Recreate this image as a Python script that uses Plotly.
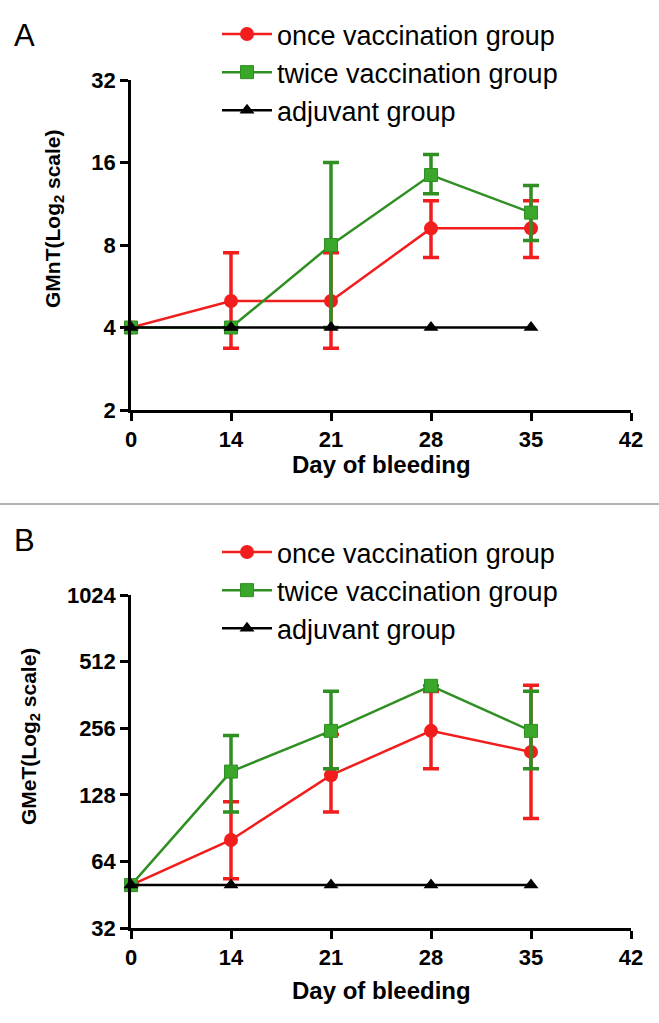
import plotly.graph_objects as go

# ---------------- data ----------------
tick_days = ["0", "14", "21", "28", "35", "42"]
days = ["0", "14", "21", "28", "35"]

# Panel A: GMnT
a_once = [4, 5, 5, 9.2, 9.2]
a_once_hi = [None, 7.5, 7.5, 11.6, 11.6]
a_once_lo = [None, 3.36, 3.36, 7.2, 7.2]
a_twice = [4, 4, 8, 14.4, 10.5]
a_twice_hi = [None, None, 16, 17.1, 13.2]
a_twice_lo = [None, None, 4, 12.3, 8.3]
a_adj = [4, 4, 4, 4, 4]
a_ticks = [2, 4, 8, 16, 32]

# Panel B: GMeT
b_once = [50, 80, 157, 249, 200]
b_once_hi = [None, 119, 240, 375, 400]
b_once_lo = [None, 53.4, 107, 168, 100]
b_twice = [50, 163, 249, 398, 249]
b_twice_hi = [None, 237, 376, None, 376]
b_twice_lo = [None, 107, 168, None, 168]
b_adj = [50, 50, 50, 50, 50]
b_ticks = [32, 64, 128, 256, 512, 1024]

names = ["once vaccination group", "twice vaccination group", "adjuvant group"]

RED = "#f21d1d"
GREEN_LINE = "#2f8f22"
GREEN_FILL = "#3aa62a"
BLACK = "#000000"
FONT = "Liberation Sans, Arial, sans-serif"

W, H = 659, 1023


def px_x(p):
    return p / W


def px_y(p):
    return 1 - p / H


def err(vals, hi, lo):
    up = [None if h is None else h - v for v, h in zip(vals, hi)]
    dn = [None if l is None else v - l for v, l in zip(vals, lo)]
    return up, dn


fig = go.Figure()


def add_panel(xa, ya, legend, once, ohi, olo, twice, thi, tlo, adj):
    up, dn = err(once, ohi, olo)
    fig.add_trace(go.Scatter(
        x=days, y=once, name=names[0], mode="lines+markers",
        xaxis=xa, yaxis=ya, legend=legend, cliponaxis=False,
        line=dict(color=RED, width=2.5),
        marker=dict(symbol="circle", size=14, color=RED),
        error_y=dict(type="data", symmetric=False, array=up, arrayminus=dn,
                     color=RED, thickness=3.5, width=8),
    ))
    up, dn = err(twice, thi, tlo)
    fig.add_trace(go.Scatter(
        x=days, y=twice, name=names[1], mode="lines+markers",
        xaxis=xa, yaxis=ya, legend=legend, cliponaxis=False,
        line=dict(color=GREEN_LINE, width=2.5),
        marker=dict(symbol="square", size=13, color=GREEN_FILL,
                    line=dict(color=GREEN_LINE, width=1)),
        error_y=dict(type="data", symmetric=False, array=up, arrayminus=dn,
                     color=GREEN_LINE, thickness=3.5, width=8),
    ))
    fig.add_trace(go.Scatter(
        x=days, y=adj, name=names[2], mode="lines+markers",
        xaxis=xa, yaxis=ya, legend=legend, cliponaxis=False,
        line=dict(color=BLACK, width=2.5),
        marker=dict(symbol="triangle-up", size=13, color=BLACK),
    ))


add_panel("x", "y", "legend", a_once, a_once_hi, a_once_lo,
          a_twice, a_twice_hi, a_twice_lo, a_adj)
add_panel("x2", "y2", "legend2", b_once, b_once_hi, b_once_lo,
          b_twice, b_twice_hi, b_twice_lo, b_adj)

axis_common = dict(
    showline=True, linecolor="black", linewidth=2.5,
    ticks="outside", ticklen=8, tickwidth=2.5, tickcolor="black",
    showgrid=False, zeroline=False, automargin=False,
    tickfont=dict(family=FONT, size=22, color="black", weight="bold"),
)

xdom = [px_x(131), px_x(631)]
legend_common = dict(xanchor="left", yanchor="top", bgcolor="rgba(0,0,0,0)",
                     font=dict(family=FONT, size=27), tracegroupgap=0,
                     itemwidth=50)

fig.update_layout(
    width=W, height=H,
    margin=dict(l=0, r=0, t=0, b=0, pad=0, autoexpand=False),
    paper_bgcolor="white", plot_bgcolor="white",
    font=dict(family=FONT, color="black"),
    xaxis=dict(domain=xdom, anchor="y", type="category",
               categoryorder="array", categoryarray=tick_days,
               tickvals=tick_days, range=[0, 5], **axis_common),
    yaxis=dict(domain=[px_y(410), px_y(80)], anchor="x", type="log",
               range=[0.30103, 1.50515], tickvals=a_ticks,
               ticktext=[str(t) for t in a_ticks], **axis_common),
    xaxis2=dict(domain=xdom, anchor="y2", type="category",
                categoryorder="array", categoryarray=tick_days,
                tickvals=tick_days, range=[0, 5], **axis_common),
    yaxis2=dict(domain=[px_y(928), px_y(595)], anchor="x2", type="log",
                range=[1.50515, 3.0103], tickvals=b_ticks,
                ticktext=[str(t) for t in b_ticks], **axis_common),
    legend=dict(x=px_x(217), y=px_y(10), **legend_common),
    legend2=dict(x=px_x(217), y=px_y(528), **legend_common),
    shapes=[dict(type="line", xref="paper", yref="paper", x0=0, x1=1,
                 y0=px_y(504), y1=px_y(504),
                 line=dict(color="#b4b4b4", width=2))],
    annotations=[
        dict(text="A", x=px_x(12), y=px_y(36), xref="paper", yref="paper",
             xanchor="left", yanchor="middle", showarrow=False,
             font=dict(family=FONT, size=31)),
        dict(text="B", x=px_x(12), y=px_y(540), xref="paper", yref="paper",
             xanchor="left", yanchor="middle", showarrow=False,
             font=dict(family=FONT, size=31)),
        dict(text="GMnT(Log<sub>2</sub> scale)", x=px_x(54), y=px_y(219),
             xref="paper", yref="paper", textangle=-90, showarrow=False,
             xanchor="center", yanchor="middle",
             font=dict(family=FONT, size=21, weight="bold")),
        dict(text="GMeT(Log<sub>2</sub> scale)", x=px_x(30), y=px_y(737),
             xref="paper", yref="paper", textangle=-90, showarrow=False,
             xanchor="center", yanchor="middle",
             font=dict(family=FONT, size=21, weight="bold")),
        dict(text="Day of bleeding", x=px_x(381), y=px_y(464),
             xref="paper", yref="paper", showarrow=False,
             xanchor="center", yanchor="middle",
             font=dict(family=FONT, size=24, weight="bold")),
        dict(text="Day of bleeding", x=px_x(381), y=px_y(990),
             xref="paper", yref="paper", showarrow=False,
             xanchor="center", yanchor="middle",
             font=dict(family=FONT, size=24, weight="bold")),
    ],
)

fig.write_html(
    "out.html",
    config={"displayModeBar": False},
    post_script="document.body.style.margin='0';document.body.style.padding='0';document.documentElement.style.overflow='hidden';",
)
